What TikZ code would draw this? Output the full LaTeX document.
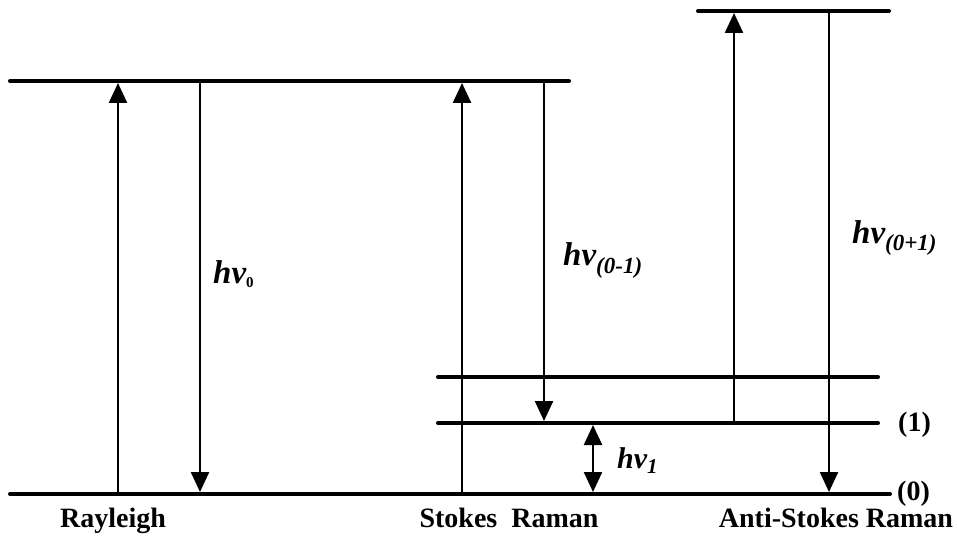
\documentclass[tikz,border=0pt]{standalone}
\usepackage{fontspec}
\setmainfont{Liberation Serif}
\usetikzlibrary{arrows.meta,calc,positioning}
\newcommand{\hvsub}[3]{hν\raisebox{-#1pt}{\fontsize{#2}{#2}\selectfont #3}}

\begin{document}
\begin{tikzpicture}[x=1pt,y=-1pt,>={Triangle[length=20pt,width=18pt]},
  level/.style={line width=4pt,line cap=round},
  trans/.style={line width=2.4pt,->,shorten >=2pt},
  tag/.style={font=\fontsize{28}{30}\selectfont\bfseries,inner sep=0pt},
  hvtag/.style={font=\fontsize{33}{36}\selectfont\bfseries\itshape,anchor=base west,inner sep=0pt}]
\useasboundingbox (0,0) rectangle (957,537);
\draw[level] (10,81) -- (569,81);
\draw[level] (698,11) -- (889,11);
\draw[level] (438,377) -- (878,377);
\draw[level] (438,423) -- (878,423);
\draw[level] (10,494) -- (890,494);
\foreach \n/\x/\ya/\yb in {ru/118/494/81,rd/200/81/494,su/462/494/81,sd/544/81/423,au/734/423/11,ad/829/11/494}{
  \coordinate (\n-a) at (\x,\ya);
  \coordinate (\n-b) at (\x,\yb);
  \draw[trans] (\n-a) -- (\n-b);}
\coordinate (vib-a) at (593,423);
\coordinate (vib-b) at (593,494);
\draw[trans,<->,shorten <=2pt] (vib-a) -- (vib-b);
\node[hvtag] (hv0) at (213,283) {\hvsub{4}{15}{\upshape 0}};
\node[hvtag] (hvs) at (563,265) {\hvsub{8}{23}{(0-1)}};
\node[hvtag] (hvas) at (852,243) {\hvsub{8}{23}{(0+1)}};
\node[hvtag,font=\fontsize{30}{32}\selectfont\bfseries\itshape] (hv1) at (617,468) {\hvsub{5}{21}{1}};
\node[tag,anchor=base west] (n1) at (898,431) {(1)};
\node[tag,anchor=base west] (n0) at (897,500) {(0)};
\node[tag,anchor=base] (ray) at (113,527) {Rayleigh};
\node[tag,anchor=base] (stk) at (509,527) {Stokes\ \ Raman};
\node[tag,anchor=base] (ast) at (836,527) {Anti-Stokes Raman};
\end{tikzpicture}
\end{document}
